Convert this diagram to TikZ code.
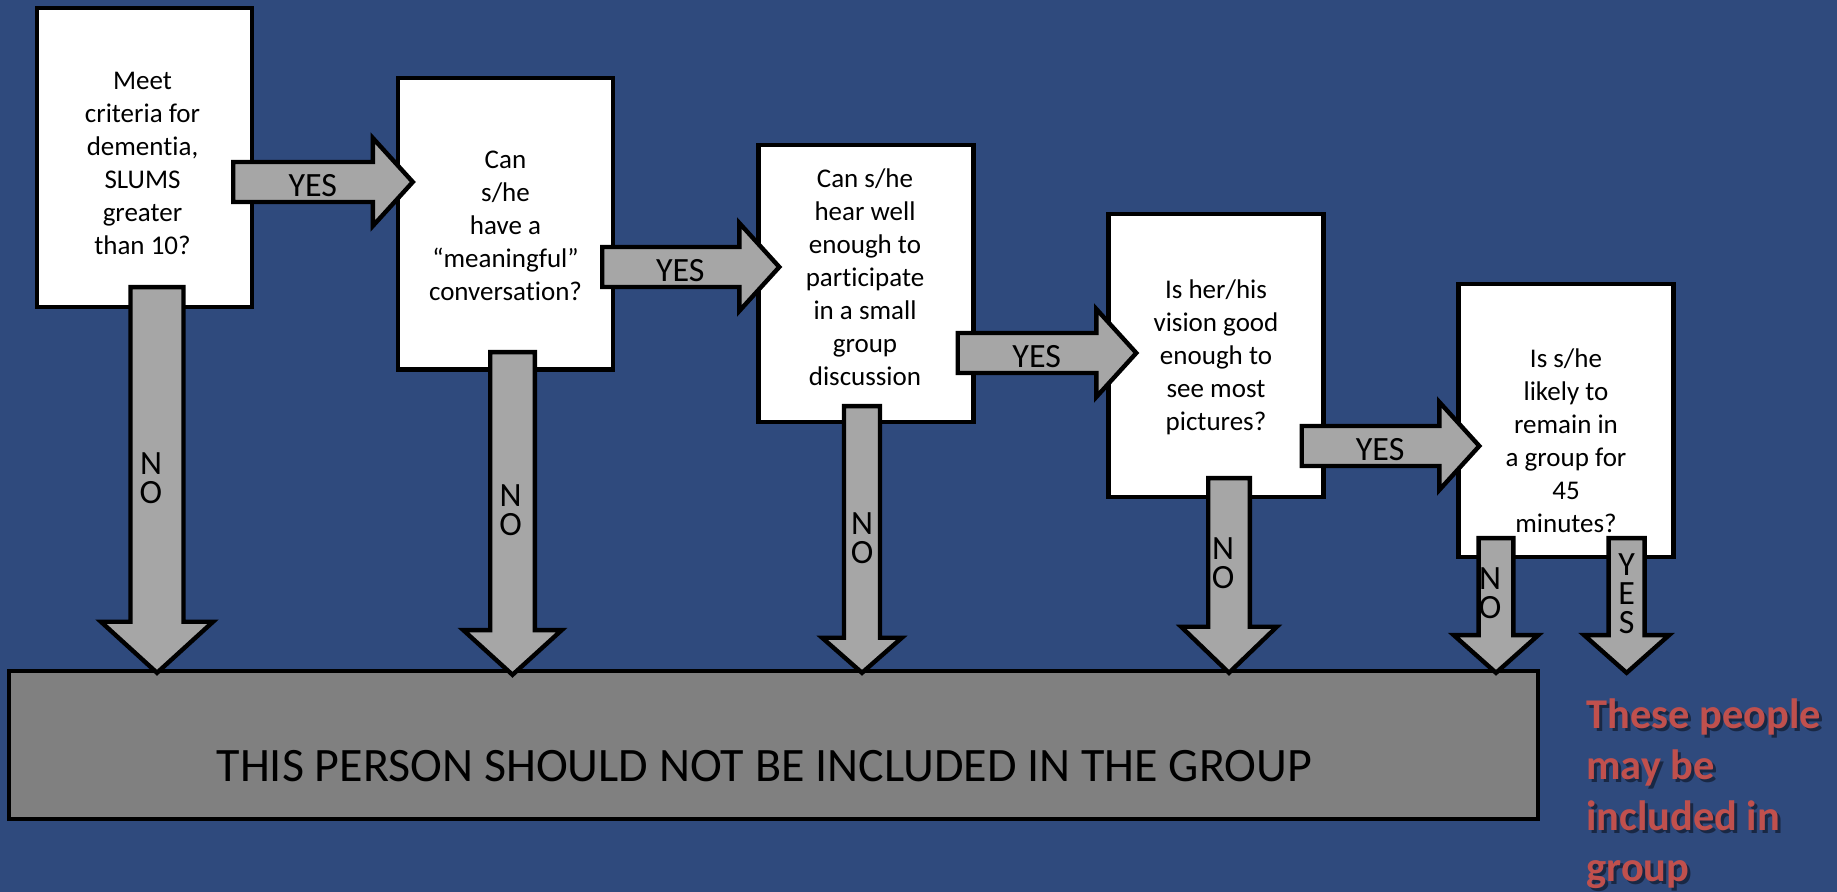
\documentclass[tikz,border=0pt]{standalone}
\usepackage{fontspec}
\setmainfont{Carlito}[Ligatures={TeX,NoCommon}]
\usetikzlibrary{calc,positioning}
\definecolor{slide}{RGB}{47,74,125}
\definecolor{arrowfill}{RGB}{166,166,166}
\definecolor{panel}{RGB}{128,128,128}
\definecolor{accept}{RGB}{192,80,77}
\newcommand{\boxfont}{\fontsize{13.5}{16.5}\selectfont}
\newcommand{\arrowfont}{\fontsize{17}{14.5}\selectfont}
% block arrow: from, to, shaft half width, head half width, head length, label options, label
\newcommand{\blockarrow}[7]{
  \path (#2) coordinate (tip) ($(#2)!#5!(#1)$) coordinate (hb);
  \draw[arrowbody] ($(#1)!#3!90:(tip)$) -- ($(hb)!#3!90:(tip)$) -- ($(hb)!#4!90:(tip)$) -- (tip)
    -- ($(hb)!#4!-90:(tip)$) -- ($(hb)!#3!-90:(tip)$) -- ($(#1)!#3!-90:(tip)$) -- cycle;
  \path (#1) -- (hb) node[arrowlabel, pos=.57, #6] {#7};
}

\begin{document}
\begin{tikzpicture}[x=0.5pt, y=-0.5pt,
    qbox/.style={draw=black, fill=white, line width=2.2pt, minimum width=107.5pt, inner sep=0pt},
    qtext/.style={align=center, font=\boxfont, inner sep=0pt},
    arrowbody/.style={draw=black, fill=arrowfill, line width=2.2pt, line join=miter},
    arrowlabel/.style={align=center, font=\arrowfont, inner sep=0pt},
    redtext/.style={align=left, anchor=north west, inner sep=0pt, font=\fontsize{21.2}{25.5}\selectfont\bfseries}]
  \path[fill=slide, use as bounding box] (0,0) rectangle (1837,892);

  % question boxes
  \node[qbox, minimum height=149.5pt] (crit) at (144.5,157.5) {};
  \node[qbox, minimum height=145.75pt] (talk) at (505.5,223.7) {};
  \node[qbox, minimum height=138.5pt] (hear) at (866,283.4) {};
  \node[qbox, minimum height=141.5pt] (see) at (1216,355.4) {};
  \node[qbox, minimum height=136.5pt] (stay) at (1566,420.4) {};

  \node[qtext] (crittext) at ($(crit)+(-2,6)$) {Meet\\criteria for\\dementia,\\SLUMS\\greater\\than 10?};
  \node[qtext] (talktext) at ($(talk)+(0,2)$) {Can\\s/he\\have a\\“meaningful”\\conversation?};
  \node[qtext] (heartext) at ($(hear)+(-1,-6)$) {Can s/he\\hear well\\enough to\\participate\\in a small\\group\\discussion};
  \node[qtext] (seetext) at ($(see)+(0,2)$) {Is her/his\\vision good\\enough to\\see most\\pictures?};
  \node[qtext] (staytext) at ($(stay)+(0,20)$) {Is s/he\\likely to\\remain in\\a group for\\45\\minutes?};

  % outcome box
  \node[draw=black, fill=panel, line width=2.2pt, minimum width=764.5pt, minimum height=74pt, inner sep=0pt] (excl) at (773.5,745) {};
  \node[font=\fontsize{24}{28}\selectfont, inner sep=0pt] (excltext) at (764.5,766) {THIS PERSON SHOULD NOT BE INCLUDED IN THE GROUP};

  % yes arrows
  \coordinate (y1s) at ($(crit.east)+(-21,24.5)$);
  \coordinate (y1e) at ($(talk.west |- y1s)+(17,0)$);
  \coordinate (y2s) at ($(talk.east)+(-13,43.3)$);
  \coordinate (y2e) at ($(hear.west |- y2s)+(23,0)$);
  \coordinate (y3s) at ($(hear.east)+(-18,69.6)$);
  \coordinate (y3e) at ($(see.west |- y3s)+(30,0)$);
  \coordinate (y4s) at ($(see.east)+(-24,90.6)$);
  \coordinate (y4e) at ($(stay.west |- y4s)+(23,0)$);
  \blockarrow{y1s}{y1e}{10pt}{22pt}{20pt}{yshift=-2pt}{YES}
  \blockarrow{y2s}{y2e}{10pt}{22pt}{20pt}{yshift=-2pt}{YES}
  \blockarrow{y3s}{y3e}{10pt}{22pt}{20pt}{yshift=-2pt}{YES}
  \blockarrow{y4s}{y4e}{10pt}{22pt}{20pt}{yshift=-2pt}{YES}

  % no arrows
  \coordinate (n1s) at ($(crit.south)+(12.5,-22)$);
  \coordinate (n1e) at ($(n1s |- excl.north)+(0,4)$);
  \coordinate (n2s) at ($(talk.south)+(7,-19.5)$);
  \coordinate (n2e) at ($(n2s |- excl.north)+(0,6)$);
  \coordinate (n3s) at ($(hear.south)+(-4,-18)$);
  \coordinate (n3e) at ($(n3s |- excl.north)+(0,4)$);
  \coordinate (n4s) at ($(see.south)+(13,-21)$);
  \coordinate (n4e) at ($(n4s |- excl.north)+(0,4)$);
  \coordinate (n5s) at ($(stay.south)+(-70,-21)$);
  \coordinate (n5e) at ($(n5s |- excl.north)+(0,4)$);
  \coordinate (y5s) at ($(stay.south)+(60.6,-21)$);
  \coordinate (y5e) at ($(y5s |- excl.north)+(0,4)$);
  \blockarrow{n1s}{n1e}{13.25pt}{28pt}{25.5pt}{xshift=-3pt}{N\\O}
  \blockarrow{n2s}{n2e}{11.15pt}{24.6pt}{22.35pt}{xshift=-1pt}{N\\O}
  \blockarrow{n3s}{n3e}{9pt}{19.9pt}{17.5pt}{}{N\\O}
  \blockarrow{n4s}{n4e}{10.4pt}{23.9pt}{23pt}{xshift=-3pt}{N\\O}
  \blockarrow{n5s}{n5e}{8.7pt}{21.15pt}{18.85pt}{xshift=-3pt}{N\\O}
  \blockarrow{y5s}{y5e}{9pt}{21.25pt}{18.85pt}{}{Y\\E\\S}

  % included note
  \node[redtext, text=black, opacity=.45] (inclshadow) at (1589,701) {These people\\may be\\included in\\group};
  \node[redtext, text=accept] (incl) at (1586,698) {These people\\may be\\included in\\group};
\end{tikzpicture}
\end{document}
